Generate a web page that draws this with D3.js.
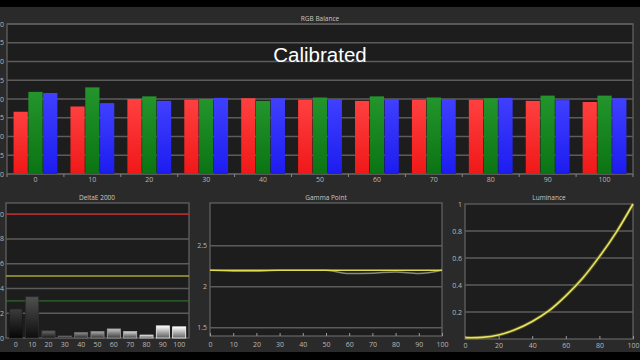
<!DOCTYPE html>
<html>
<head>
<meta charset="utf-8">
<script src="https://cdn.jsdelivr.net/npm/d3@7"></script>
<style>
  body { margin: 0; background: #000; }
  svg { display: block; font-family: "Open Sans", sans-serif; }
</style>
</head>
<body>
<div id="chart"></div>
<script>
// RGB balance values per gray step
const steps = ["0", "10", "20", "30", "40", "50", "60", "70", "80", "90", "100"];
const redVals = [96.6, 98.0, 100.0, 99.8, 100.2, 99.8, 99.5, 99.8, 99.8, 99.5, 99.2];
const greenVals = [101.9, 103.1, 100.7, 100.0, 99.5, 100.4, 100.7, 100.4, 100.2, 100.9, 100.9];
const blueVals = [101.6, 98.9, 99.5, 100.3, 100.2, 100.0, 100.0, 100.0, 100.3, 99.7, 100.2];
const rgbTicks = [80, 85, 90, 95, 100, 105, 110, 115, 120];

// DeltaE 2000 per step
const deltaE = [2.36, 3.33, 0.57, 0.16, 0.45, 0.52, 0.73, 0.52, 0.24, 0.98, 0.9];
const dETicks = [0, 2, 4, 6, 8, 10];
const dEGrays = [15, 35, 60, 80, 100, 125, 150, 170, 195, 225, 245];

// gamma
const stepNums = [0, 10, 20, 30, 40, 50, 60, 70, 80, 90, 100];
const gammaTarget = [2.2, 2.2, 2.2, 2.2, 2.2, 2.2, 2.2, 2.2, 2.2, 2.2, 2.2];
const gammaMeasured = [2.2, 2.19, 2.19, 2.2, 2.2, 2.2, 2.16, 2.165, 2.18, 2.16, 2.2];
const gammaTicks = [1.5, 2, 2.5];

// luminance
const luminance = [0.01, 0.012, 0.03, 0.07, 0.13, 0.21, 0.32, 0.45, 0.61, 0.79, 1.0];
const lumTicks = [0.2, 0.4, 0.6, 0.8, 1];
const lumXTicks = [0, 20, 40, 60, 80, 100];

const width = 640, height = 360;
const gridColor = "#5c5c5c", labelColor = "#b8b8b8", plotBg = "#1d1d1d";

const svg = d3.select("#chart").append("svg")
  .attr("width", width).attr("height", height);

const defs = svg.append("defs");
function vgrad(id, top, bottom) {
  const g = defs.append("linearGradient").attr("id", id)
    .attr("x1", 0).attr("y1", 0).attr("x2", 0).attr("y2", 1);
  g.append("stop").attr("offset", "0%").attr("stop-color", top);
  g.append("stop").attr("offset", "100%").attr("stop-color", bottom);
}
vgrad("gR", "#ff4040", "#f01818");
vgrad("gG", "#23952c", "#0b7413");
vgrad("gB", "#4040ff", "#1c1cf0");

svg.append("rect").attr("width", width).attr("height", height).attr("fill", "#000");
svg.append("rect").attr("y", 7).attr("width", width).attr("height", 345).attr("fill", "#2a2a2a");

function plotFrame(x0, y0, x1, y1) {
  svg.append("rect").attr("x", x0).attr("y", y0)
    .attr("width", x1 - x0).attr("height", y1 - y0)
    .attr("fill", plotBg).attr("stroke", "#666").attr("stroke-width", 1.2);
}
function title(x, y, t) {
  svg.append("text").attr("x", x).attr("y", y).attr("text-anchor", "middle")
    .attr("fill", "#c8c8c8").attr("font-size", 6.5).text(t);
}
function hGrid(scale, ticks, x0, x1) {
  svg.append("g").selectAll("line").data(ticks).join("line")
    .attr("x1", x0).attr("x2", x1)
    .attr("y1", d => scale(d)).attr("y2", d => scale(d))
    .attr("stroke", gridColor).attr("stroke-width", 1.5);
}
function yLabels(scale, ticks, x, fmt) {
  svg.append("g").selectAll("text").data(ticks).join("text")
    .attr("x", x).attr("y", d => scale(d) + 2.5)
    .attr("text-anchor", "end").attr("fill", labelColor).attr("font-size", 7)
    .text(fmt);
}

// ---------- RGB Balance ----------
const top0 = 24, top1 = 174, left0 = 7, right0 = 633;
const x0 = d3.scaleBand().domain(steps).range([left0, right0]).paddingInner(0.21).paddingOuter(0.105);
const x1 = d3.scaleBand().domain(["r", "g", "b"]).range([0, x0.bandwidth()]).padding(0.04);
const yRGB = d3.scaleLinear().domain([80, 120]).range([top1, top0]);

plotFrame(left0, top0, right0, top1);
hGrid(yRGB, rgbTicks, left0, right0);
title(320, 21, "RGB Balance");
yLabels(yRGB, rgbTicks, 4, d => d);

const rgbRows = steps.map((s, i) => ({ step: s, r: redVals[i], g: greenVals[i], b: blueVals[i] }));
const fills = { r: "url(#gR)", g: "url(#gG)", b: "url(#gB)" };
svg.append("g").selectAll("g").data(rgbRows).join("g")
  .attr("transform", d => `translate(${x0(d.step)},0)`)
  .selectAll("rect")
  .data(d => ["r", "g", "b"].map(k => ({ k, v: d[k] })))
  .join("rect")
  .attr("x", d => x1(d.k))
  .attr("width", x1.bandwidth())
  .attr("y", d => yRGB(d.v))
  .attr("height", d => yRGB(80) - yRGB(d.v))
  .attr("fill", d => fills[d.k]);

const bStep = (right0 - left0) / steps.length;
svg.append("g").selectAll("line").data(d3.range(steps.length + 1)).join("line")
  .attr("x1", i => left0 + i * bStep).attr("x2", i => left0 + i * bStep)
  .attr("y1", top1).attr("y2", top1 + 3)
  .attr("stroke", "#888");
svg.append("g").selectAll("text").data(steps).join("text")
  .attr("x", d => x0(d) + x0.bandwidth() / 2).attr("y", 182)
  .attr("text-anchor", "middle").attr("fill", labelColor).attr("font-size", 7)
  .text(d => d);

svg.append("text").attr("x", 320).attr("y", 62).attr("text-anchor", "middle")
  .attr("fill", "#fff").attr("font-size", 20.5).attr("font-family", "Liberation Sans, Arial, sans-serif")
  .text("Calibrated");

// ---------- DeltaE 2000 ----------
const dX0 = 6, dX1 = 189, dY0 = 203, dY1 = 338;
const xDE = d3.scaleBand().domain(steps).range([dX0, dX1]).padding(0.2);
const yDE = d3.scaleLinear().domain([0, 10.9]).range([dY1, dY0]);
plotFrame(dX0, dY0, dX1, dY1);
hGrid(yDE, dETicks.slice(1, 5), dX0, dX1);
title(97, 200, "DeltaE 2000");
yLabels(yDE, dETicks, 4, d => d);
svg.append("line").attr("x1", dX0).attr("x2", dX1).attr("y1", yDE(10)).attr("y2", yDE(10))
  .attr("stroke", "#a83030").attr("stroke-width", 1.6);
svg.append("line").attr("x1", dX0).attr("x2", dX1).attr("y1", yDE(5)).attr("y2", yDE(5))
  .attr("stroke", "#a8a436").attr("stroke-width", 1.6);
svg.append("line").attr("x1", dX0).attr("x2", dX1).attr("y1", yDE(3)).attr("y2", yDE(3))
  .attr("stroke", "#2c6a2c").attr("stroke-width", 1.4);

deltaE.forEach((v, i) => {
  const g = dEGrays[i];
  const t = Math.min(255, g + 45);
  vgrad("dE" + i, d3.rgb(t, t, t), d3.rgb(g * 0.4, g * 0.4, g * 0.4));
});
svg.append("g").selectAll("rect").data(steps).join("rect")
  .attr("x", d => xDE(d)).attr("width", xDE.bandwidth())
  .attr("y", (d, i) => yDE(deltaE[i]))
  .attr("height", (d, i) => yDE(0) - yDE(deltaE[i]))
  .attr("fill", (d, i) => `url(#dE${i})`)
  .attr("stroke", (d, i) => d3.rgb(dEGrays[i] + 10, dEGrays[i] + 10, dEGrays[i] + 10))
  .attr("stroke-width", 0.8);
svg.append("g").selectAll("text").data(steps).join("text")
  .attr("x", d => xDE(d) + xDE.bandwidth() / 2).attr("y", 347)
  .attr("text-anchor", "middle").attr("fill", labelColor).attr("font-size", 7)
  .text(d => d);

// ---------- Gamma Point ----------
const gX0 = 210, gX1 = 442, gY0 = 203, gY1 = 336;
const xG = d3.scaleLinear().domain([0, 100]).range([gX0, gX1]);
const yG = d3.scaleLinear().domain([1.4, 3.02]).range([gY1, gY0]);
plotFrame(gX0, gY0, gX1, gY1);
hGrid(yG, gammaTicks, gX0, gX1);
title(326, 200, "Gamma Point");
yLabels(yG, gammaTicks, 207, d => d);
const gLine = d3.line().x((d, i) => xG(stepNums[i])).y(d => yG(d)).curve(d3.curveMonotoneX);
svg.append("path").attr("d", gLine(gammaMeasured)).attr("fill", "none")
  .attr("stroke", "#8a8a80").attr("stroke-width", 1.5);
svg.append("path").attr("d", gLine(gammaTarget)).attr("fill", "none")
  .attr("stroke", "#e0dc50").attr("stroke-width", 1.6);
svg.append("g").attr("transform", `translate(0,${gY1})`)
  .call(d3.axisBottom(xG).tickValues(stepNums).tickSize(-3).tickPadding(6))
  .call(g => g.select(".domain").remove())
  .call(g => g.selectAll("line").attr("stroke", "#999"))
  .call(g => g.selectAll("text").attr("fill", labelColor).attr("font-size", 7).attr("font-family", "Open Sans, sans-serif"));

// ---------- Luminance ----------
const lX0 = 465, lX1 = 633, lY0 = 204, lY1 = 339;
const xL = d3.scaleLinear().domain([0, 100]).range([lX0, lX1]);
const yL = d3.scaleLinear().domain([0, 1]).range([lY1, lY0]);
plotFrame(lX0, lY0, lX1, lY1);
hGrid(yL, lumTicks.slice(0, 4), lX0, lX1);
title(549, 200, "Luminance");
yLabels(yL, lumTicks, 462, d => d);
const lLine = d3.line().x((d, i) => xL(stepNums[i])).y(d => yL(d)).curve(d3.curveCatmullRom);
svg.append("path").attr("d", lLine(luminance)).attr("fill", "none")
  .attr("stroke", "#7a7828").attr("stroke-width", 3.5).attr("opacity", 0.6);
svg.append("path").attr("d", lLine(luminance)).attr("fill", "none")
  .attr("stroke", "#e8e460").attr("stroke-width", 1.6);
svg.append("g").attr("transform", `translate(0,${lY1})`)
  .call(d3.axisBottom(xL).tickValues(lumXTicks).tickSize(-3).tickPadding(4))
  .call(g => g.select(".domain").remove())
  .call(g => g.selectAll("line").attr("stroke", "#999"))
  .call(g => g.selectAll("text").attr("fill", labelColor).attr("font-size", 7).attr("font-family", "Open Sans, sans-serif"));
</script>
</body>
</html>
